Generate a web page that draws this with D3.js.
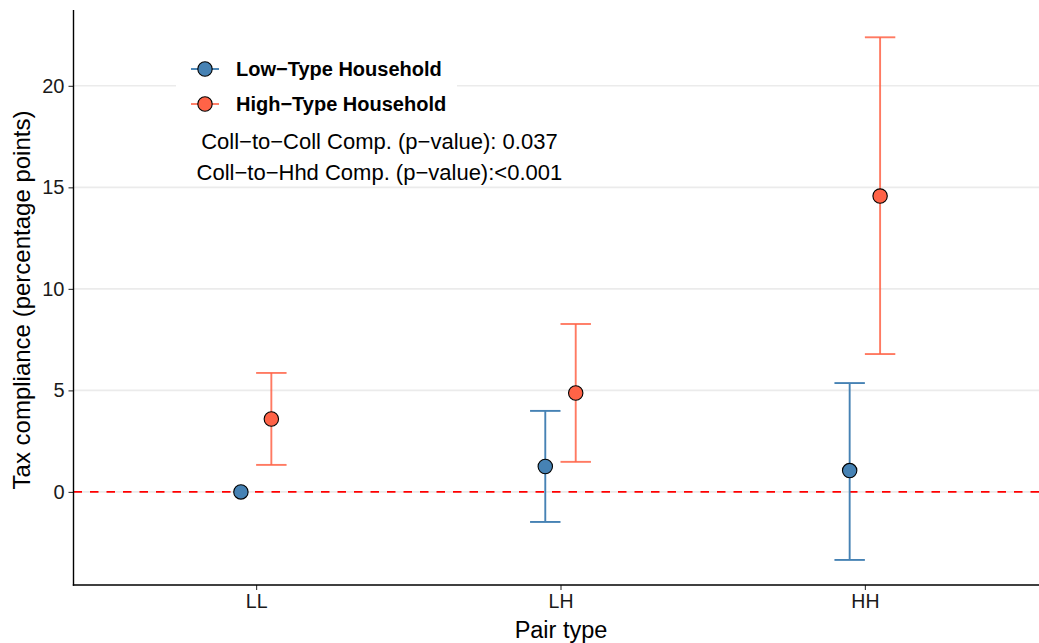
<!DOCTYPE html>
<html>
<head>
<meta charset="utf-8">
<script src="https://cdn.jsdelivr.net/npm/d3@7"></script>
<style>
  html, body { margin: 0; padding: 0; background: #fff; }
  svg { display: block; font-family: "Liberation Sans", Arial, Helvetica, sans-serif; }
</style>
</head>
<body>
<svg id="chart" width="1039" height="643"></svg>
<script>
// ---- data ----
const categories = ["LL", "LH", "HH"];
const seriesNames = ["Low−Type Household", "High−Type Household"];
const seriesColors = ["#4682B4", "#FF6347"];
const lowEst = [0, 1.25, 1.05];
const lowLo  = [null, -1.48, -3.35];
const lowHi  = [null, 3.99, 5.36];
const highEst = [3.59, 4.87, 14.57];
const highLo  = [1.33, 1.48, 6.79];
const highHi  = [5.86, 8.27, 22.39];
const yTicks = [0, 5, 10, 15, 20];
const annotations = ["Coll−to−Coll Comp. (p−value): 0.037", "Coll−to−Hhd Comp. (p−value):<0.001"];
const yTitle = "Tax compliance (percentage points)";
const xTitle = "Pair type";

// ---- layout ----
const svg = d3.select("#chart");
const W = 1039, H = 643;
const panel = { left: 73.5, right: 1047.5, top: 11, bottom: 585 };

const x = d3.scaleLinear().domain([0.4, 3.6]).range([panel.left, panel.right]);
const y = d3.scaleLinear().domain([-4.585, 23.685]).range([panel.bottom, panel.top]);
const dodge = 0.05, capHalf = 0.05;

const series = [
  { name: seriesNames[0], color: seriesColors[0], est: lowEst, lo: lowLo, hi: lowHi, off: -dodge },
  { name: seriesNames[1], color: seriesColors[1], est: highEst, lo: highLo, hi: highHi, off: dodge }
];

// gridlines
svg.append("g").selectAll("line").data(yTicks).join("line")
  .attr("x1", panel.left).attr("x2", W)
  .attr("y1", d => y(d)).attr("y2", d => y(d))
  .attr("stroke", "#EBEBEB").attr("stroke-width", 1.6);

// legend background (covers gridline)
svg.append("rect").attr("x", 176).attr("y", 50).attr("width", 281).attr("height", 72).attr("fill", "#fff");

// zero line
svg.append("line")
  .attr("x1", panel.left).attr("x2", W)
  .attr("y1", y(0)).attr("y2", y(0))
  .attr("stroke", "#FF0000").attr("stroke-width", 1.8)
  .attr("stroke-dasharray", "8.5,8");

// error bars
series.forEach(s => {
  const rows = categories.map((c, i) => ({ i, est: s.est[i], lo: s.lo[i], hi: s.hi[i] })).filter(r => r.lo !== null);
  const g = svg.append("g").attr("stroke", s.color).attr("stroke-width", 1.9).attr("stroke-opacity", s.off > 0 ? 0.85 : 1).attr("fill", "none");
  rows.forEach(r => {
    const cx = r.i + 1 + s.off;
    g.append("line").attr("x1", x(cx)).attr("x2", x(cx)).attr("y1", y(r.lo)).attr("y2", y(r.hi));
    g.append("line").attr("x1", x(cx - capHalf)).attr("x2", x(cx + capHalf)).attr("y1", y(r.lo)).attr("y2", y(r.lo));
    g.append("line").attr("x1", x(cx - capHalf)).attr("x2", x(cx + capHalf)).attr("y1", y(r.hi)).attr("y2", y(r.hi));
  });
});

// points
series.forEach(s => {
  svg.append("g").selectAll("circle").data(s.est).join("circle")
    .attr("cx", (d, i) => x(i + 1 + s.off))
    .attr("cy", d => y(d))
    .attr("r", 7.2)
    .attr("fill", s.color)
    .attr("stroke", "#000").attr("stroke-width", 1.1);
});

// axes
const yAxis = svg.append("g").attr("transform", `translate(${panel.left},0)`)
  .call(d3.axisLeft(y).tickValues(yTicks).tickSize(5).tickPadding(4).tickFormat(d3.format("d")));
yAxis.select(".domain").remove();
yAxis.selectAll(".tick line").attr("stroke", "#333").attr("stroke-width", 1.1);
yAxis.selectAll(".tick text").attr("fill", "#1a1a1a").attr("font-size", 20).attr("font-family", "Liberation Sans, Arial, sans-serif");

const xAxis = svg.append("g").attr("transform", `translate(0,${panel.bottom})`)
  .call(d3.axisBottom(x).tickValues([1, 2, 3]).tickSize(5).tickPadding(4).tickFormat(d => categories[d - 1]));
xAxis.select(".domain").remove();
xAxis.selectAll(".tick line").attr("stroke", "#333").attr("stroke-width", 1.1);
xAxis.selectAll(".tick text").attr("fill", "#1a1a1a").attr("font-size", 19.5).attr("font-family", "Liberation Sans, Arial, sans-serif");

svg.append("line").attr("x1", panel.left).attr("x2", panel.left).attr("y1", panel.top - 1).attr("y2", panel.bottom + 0.7)
  .attr("stroke", "#000").attr("stroke-width", 1.4);
svg.append("line").attr("x1", panel.left - 0.7).attr("x2", W).attr("y1", panel.bottom).attr("y2", panel.bottom)
  .attr("stroke", "#000").attr("stroke-width", 1.4);

// axis titles
svg.append("text").attr("x", 561).attr("y", 638).attr("text-anchor", "middle")
  .attr("font-size", 23.5).attr("fill", "#000").text(xTitle);
svg.append("text").attr("transform", `translate(30,300) rotate(-90)`)
  .attr("text-anchor", "middle").attr("font-size", 24).attr("fill", "#000").text(yTitle);

// legend
const legendRows = [69, 104];
series.forEach((s, k) => {
  const ly = legendRows[k];
  svg.append("line").attr("x1", 191).attr("x2", 219).attr("y1", ly).attr("y2", ly)
    .attr("stroke", s.color).attr("stroke-width", 1.9).attr("stroke-opacity", k ? 0.85 : 1);
  svg.append("circle").attr("cx", 205).attr("cy", ly).attr("r", 7.2)
    .attr("fill", s.color).attr("stroke", "#000").attr("stroke-width", 1.1);
  svg.append("text").attr("x", 236).attr("y", ly).attr("dy", "0.35em")
    .attr("font-size", 20).attr("font-weight", "bold").attr("fill", "#000").text(s.name);
});

// annotations
const annX = 1.405;
[141, 172].forEach((ay, k) => {
  svg.append("text").attr("x", x(annX)).attr("y", ay).attr("dy", "0.35em")
    .attr("text-anchor", "middle").attr("font-size", 22).attr("fill", "#000").text(annotations[k]);
});
</script>
</body>
</html>
